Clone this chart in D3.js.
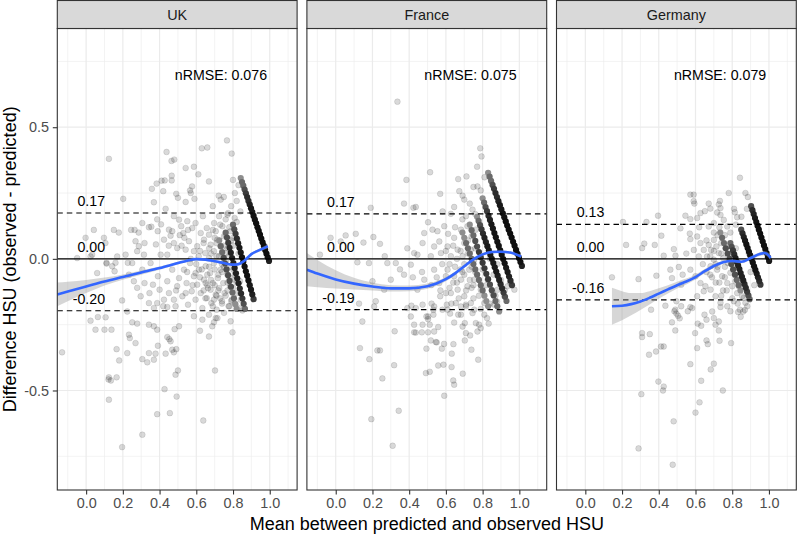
<!DOCTYPE html>
<html><head><meta charset="utf-8">
<script src="https://cdn.jsdelivr.net/npm/d3@7"></script>
<style>body{margin:0;background:#fff}text{font-family:"Liberation Sans",Arial,Helvetica,sans-serif}</style>
</head><body>
<script>
// ---------------- data ----------------
const panels = ["UK", "France", "Germany"];
const xTicks = [0, 0.2, 0.4, 0.6, 0.8, 1.0];
const xTickLabels = ["0.0", "0.2", "0.4", "0.6", "0.8", "1.0"];
const xMinor = [-0.1, 0.1, 0.3, 0.5, 0.7, 0.9, 1.1];
const yTicks = [-0.5, 0, 0.5];
const yTickLabels = ["-0.5", "0.0", "0.5"];
const yMinor = [-0.75, -0.25, 0.25, 0.75];
const nrmseLabels = ["nRMSE: 0.076", "nRMSE: 0.075", "nRMSE: 0.079"];

const ukLimits = [0.174, 0, -0.197];
const ukLimitLabels = ["0.17", "0.00", "-0.20"];
const frLimits = [0.171, 0, -0.193];
const frLimitLabels = ["0.17", "0.00", "-0.19"];
const deLimits = [0.131, 0, -0.156];
const deLimitLabels = ["0.13", "0.00", "-0.16"];

// scattered points [mean, difference]
const ukPoints = [
[0.124,0.38],[0.202,0.228],[0.438,0.406],[0.465,0.372],[0.48,0.377],[0.542,0.345],[0.587,0.35],[0.63,0.42],[0.66,0.423],[0.767,0.45],[0.793,0.40],
[0.466,0.316],[0.428,0.298],[0.411,0.297],[0.384,0.286],[0.358,0.266],[0.466,0.298],[0.42,0.257],[0.369,0.215],[0.433,0.19],[0.491,0.247],[0.5,0.232],[0.542,0.216],[0.566,0.26],[0.577,0.275],[0.57,0.25],[0.59,0.228],[0.611,0.321],[0.669,0.294],[0.722,0.24],[0.733,0.225],[0.75,0.235],[0.69,0.2],[0.77,0.168],
[0.097,0.08],[0.105,0.06],[0.042,0.11],[-0.003,0.08],[0.151,0.11],[0.178,0.1],[0.245,0.11],[0.264,0.11],[0.286,0.1],[0.306,0.136],[0.342,0.12],[0.387,0.15],[0.408,0.131],[0.469,0.105],[0.51,0.09],[0.535,0.08],[0.555,0.11],
[0.269,0.067],[0.287,0.048],[0.318,0.06],[0.355,0.122],[0.38,0.055],[0.406,0.016],[0.451,0.111],[0.46,0.088],[0.478,0.162],[0.506,0.149],[0.518,0.124],[0.529,0.098],[0.551,0.143],[0.56,0.067],[0.578,0.117],[0.596,0.136],[0.605,0.048],[0.624,0.098],[0.636,0.162],[0.642,0.073],[0.657,0.117],[0.669,0.092],[0.678,0.054],[0.697,0.136],[0.706,0.105],[0.715,0.073],[0.724,0.162],[0.733,0.048],[0.742,0.124],[0.751,0.086],[0.76,0.022],[0.773,0.174],[0.787,0.105],[0.809,0.155],[0.824,0.073],
[0.39,0.105],[0.424,0.073],[0.478,0.06],[0.496,0.041],[0.542,0.035],[0.587,0.029],[0.613,0.01],[0.649,0.022],[0.669,0.003],[0.696,0.029],[0.724,0.01],[0.751,0.0],[0.778,0.01],
[0.033,0.016],[0.111,-0.015],[0.16,-0.015],[0.227,-0.015],[0.278,0.029],[0.315,0.016],[0.442,0.016],
[-0.049,0.003],[0.024,0.009],[0.06,-0.054],[0.111,-0.018],[0.142,-0.028],[0.155,-0.047],[0.215,0.016],[0.169,0.009],[0.233,-0.06],
[0.196,-0.158],[0.224,-0.2],[0.251,-0.241],[0.278,-0.246],[0.024,-0.235],[0.064,-0.221],[0.106,-0.222],[0.051,-0.269],[0.1,-0.269],[0.138,-0.269],[0.166,-0.343],[0.18,-0.386],[0.124,-0.45],[0.166,-0.45],[0.124,-0.535],[0.196,-0.715],[0.224,-0.358],[0.238,-0.301],[0.233,-0.288],[0.269,-0.32],[0.306,-0.381],[0.333,-0.393],[0.342,-0.358],[0.378,-0.36],[0.369,-0.383],[0.306,-0.668],[0.391,-0.33],[0.387,-0.59],[0.456,-0.586],[0.427,-0.495],[0.493,-0.523],[0.442,-0.297],[0.453,-0.305],[0.46,-0.313],[0.469,-0.345],[0.433,-0.36],[0.478,-0.355],[0.491,-0.343],[0.487,-0.44],[0.5,-0.424],[0.342,-0.25],[0.369,-0.256],[0.387,-0.269],[0.42,-0.18],[0.442,-0.183],[0.482,-0.267],[0.506,-0.256],[0.587,-0.218],[0.62,-0.273],[0.669,-0.295],[0.638,-0.614],[0.702,-0.424],[0.696,-0.241],[0.687,-0.256],[0.706,-0.225],[0.797,-0.279],[-0.131,-0.355],[0.122,-0.458],[0.135,-0.462],
[0.318,-0.092],[0.345,-0.13],[0.364,-0.098],[0.391,-0.066],[0.4,-0.117],[0.424,-0.155],[0.442,-0.085],[0.451,-0.13],[0.469,-0.041],[0.478,-0.155],[0.496,-0.104],[0.506,-0.073],[0.524,-0.142],[0.533,-0.041],[0.547,-0.092],[0.555,-0.174],[0.566,-0.016],[0.575,-0.123],[0.587,-0.066],[0.596,-0.155],[0.605,-0.098],[0.615,-0.041],[0.624,-0.13],[0.633,-0.187],[0.642,-0.079],[0.651,-0.028],[0.657,-0.149],[0.664,-0.111],[0.675,-0.054],[0.682,-0.168],[0.69,-0.092],[0.696,-0.016],[0.706,-0.136],[0.711,-0.193],[0.718,-0.073],[0.725,-0.111],[0.733,-0.041],[0.74,-0.161],[0.747,-0.092],[0.754,-0.13],[0.762,-0.009],[0.769,-0.06],[0.776,-0.18],[0.784,-0.104],[0.793,-0.155],[0.802,-0.041],[0.811,-0.079],[0.82,-0.13],[0.833,-0.187],[0.842,-0.155],[0.851,-0.196],[0.838,-0.085],
[0.678,-0.117],[0.696,-0.155],[0.651,-0.092],[0.596,-0.054],[0.542,-0.13],[0.487,-0.18],[0.387,-0.168],[0.369,-0.187],[0.342,-0.168],[0.297,-0.142],[0.278,-0.11],[0.26,-0.085],[0.306,-0.041],[0.351,-0.016],[0.251,-0.016],[0.633,-0.231],[0.669,-0.212],[0.715,-0.225],[0.751,-0.205],[0.787,-0.237],
[0.66,-0.06],[0.68,-0.08],[0.7,-0.1],[0.72,-0.12],[0.74,-0.05],[0.76,-0.14],[0.78,-0.07],[0.8,-0.11],[0.7,-0.04],[0.73,-0.15],[0.75,-0.03],[0.77,-0.09],[0.79,-0.16],[0.81,-0.06],[0.64,-0.12],[0.62,-0.07],[0.67,0.04],[0.71,0.06],[0.74,0.02],[0.76,0.09],[0.78,0.12],[0.8,0.05],[0.82,0.14],[0.69,0.11],
[0.6,-0.02],[0.62,0.03],[0.64,0.06],[0.66,-0.1],[0.68,0.02],[0.7,0.08],[0.72,-0.06],[0.74,-0.02],[0.75,0.05],[0.77,-0.12],[0.79,-0.03],[0.8,0.08],[0.82,-0.09],[0.83,0.02],[0.84,-0.13],[0.65,-0.15],[0.69,-0.18],[0.71,-0.14],[0.73,0.13],[0.76,0.15],[0.79,0.2],[0.81,0.25],[0.83,0.28],[0.8,0.3],[0.82,0.22],[0.84,0.18],[0.78,-0.18],[0.81,-0.17],[0.57,0.0],[0.58,-0.1],[0.55,-0.05],[0.52,0.05],[0.49,-0.12],[0.45,0.05],[0.63,-0.04],[0.67,-0.03],[0.71,0.01],[0.77,0.04],[0.74,-0.17],[0.79,0.07]
];

// dense diagonal bands [mean, difference, overlapping count]
const ukStripes = [
[0.842,0.307,2],[0.849,0.292,3],[0.856,0.278,3],[0.863,0.263,4],[0.870,0.249,5],[0.877,0.235,6],[0.884,0.220,6],[0.891,0.206,7],[0.898,0.192,8],[0.905,0.178,8],[0.912,0.163,9],[0.919,0.149,9],[0.926,0.135,10],[0.933,0.120,10],[0.940,0.106,10],[0.947,0.092,10],[0.954,0.077,10],[0.961,0.063,10],[0.968,0.049,10],[0.975,0.034,10],[0.982,0.020,10],[0.989,0.006,9],[0.996,-0.008,7],
[0.800,0.130,3],[0.807,0.112,4],[0.814,0.095,5],[0.821,0.077,6],[0.828,0.059,7],[0.835,0.042,8],[0.842,0.024,8],[0.849,0.006,9],[0.856,-0.011,9],[0.863,-0.029,9],[0.870,-0.047,9],[0.877,-0.064,9],[0.884,-0.082,9],[0.891,-0.100,8],[0.898,-0.117,8],[0.905,-0.135,7],[0.912,-0.153,5],
[0.760,0.100,3],[0.767,0.081,4],[0.774,0.061,5],[0.781,0.042,6],[0.788,0.023,7],[0.795,0.003,7],[0.802,-0.016,7],[0.809,-0.035,7],[0.816,-0.055,7],[0.823,-0.074,7],[0.830,-0.093,7],[0.837,-0.113,6],[0.844,-0.132,6],[0.851,-0.151,5],[0.858,-0.171,4],[0.865,-0.190,3],
[0.725,0.070,2],[0.733,0.048,3],[0.741,0.026,3],[0.749,0.004,4],[0.757,-0.018,4],[0.765,-0.040,4],[0.773,-0.062,4],[0.781,-0.084,4],[0.789,-0.106,4],[0.797,-0.128,3],[0.805,-0.150,3],[0.813,-0.172,2],[0.820,-0.190,2]
];

const frPoints = [
[0.336,0.597],[0.787,0.42],[0.794,0.389],[0.514,0.329],[0.385,0.30],[0.667,0.303],[0.712,0.313],[0.75,0.273],[0.772,0.275],[0.372,0.21],[0.423,0.194],[0.436,0.197],[0.569,0.247],[0.191,0.194],
[0.673,0.257],[0.691,0.24],[0.7,0.225],[0.645,0.197],[0.627,0.171],[0.582,0.18],[0.109,0.095],[0.054,0.089],[-0.028,0.08],[-0.086,0.016],[0.027,0.066],[0.151,0.062],[0.205,0.083],[0.241,0.057],[0.267,0.01],[0.181,-0.016],[0.118,-0.013],[0.281,-0.016],[0.327,-0.016],[0.372,-0.06],[0.409,-0.022],[0.445,0.016],[0.503,0.139],[0.527,0.111],[0.554,0.105],[0.591,0.124],[0.612,0.095],[0.564,-0.092],[0.569,-0.142],[0.536,-0.181],[0.503,-0.219],[0.581,-0.193],[0.218,-0.161],[0.2,-0.085],[0.264,-0.117],[0.3,-0.079],
[0.427,0.022],[0.473,0.06],[0.482,0.098],[0.536,0.047],[0.518,0.01],[0.564,0.066],[0.573,0.022],[0.609,0.047],[0.627,0.01],[0.645,0.08],[0.664,0.035],[0.682,0.111],[0.691,0.01],[0.7,0.06],[0.709,0.162],[0.718,0.124],[0.727,-0.041],[0.736,0.035],[0.74,0.086],[0.745,0.187],[0.754,-0.003],[0.763,0.111],
[0.609,-0.041],[0.645,-0.066],[0.664,-0.117],[0.682,-0.079],[0.7,-0.142],[0.718,-0.104],[0.736,-0.168],[0.754,-0.079],[0.654,-0.168],[0.627,-0.13],[0.6,-0.066],[0.536,-0.041],[0.482,-0.079],[0.445,-0.117],[0.609,-0.193],[0.682,-0.212],[0.754,-0.193],[0.79,-0.117],[0.809,-0.168],[0.827,-0.079],[0.854,-0.13],[0.882,-0.117],[0.936,-0.104],[0.973,-0.117],[0.918,-0.142],
[0.127,-0.17],[0.145,-0.238],[0.209,-0.181],[0.321,-0.275],[0.132,-0.339],[0.227,-0.348],[0.241,-0.348],[0.183,-0.381],[0.318,-0.404],[0.254,-0.454],[0.194,-0.609],[0.343,-0.577],[0.31,-0.71],[0.591,-0.52],[0.491,-0.434],[0.512,-0.429],[0.558,-0.405],[0.587,-0.402],[0.631,-0.411],[0.64,-0.462],[0.645,-0.478],[0.692,-0.436],[0.776,-0.383],[0.739,-0.345],[0.632,-0.36],[0.641,-0.324],[0.578,-0.341],[0.59,-0.323],[0.494,-0.341],[0.518,-0.31],[0.545,-0.316],[0.55,-0.317],[0.427,-0.279],[0.436,-0.28],[0.469,-0.279],[0.503,-0.279],[0.536,-0.276],
[0.427,-0.25],[0.473,-0.25],[0.512,-0.25],[0.558,-0.259],[0.409,-0.219],[0.494,-0.219],[0.503,-0.229],[0.532,-0.212],[0.645,-0.242],[0.691,-0.257],[0.703,-0.244],[0.709,-0.282],[0.703,-0.31],[0.732,-0.291],[0.772,-0.276],[0.781,-0.25],[0.79,-0.263],[0.833,-0.246],[0.39,-0.187],[0.412,-0.178],[0.436,-0.187],[0.473,-0.174],[0.522,-0.17],[0.532,-0.193],[0.623,-0.208],[0.667,-0.212],[0.682,-0.181],[0.745,-0.206],[0.763,-0.244],[0.809,-0.212],[0.824,-0.225],[0.863,-0.174],[0.878,-0.162],[0.605,-0.174],[0.709,-0.174],
[0.62,-0.11],[0.65,-0.03],[0.67,-0.15],[0.69,-0.05],[0.71,-0.12],[0.73,-0.08],[0.75,-0.15],[0.76,-0.05],[0.72,0.02],[0.66,0.0],[0.7,-0.02],[0.74,-0.11],[0.68,-0.04],[0.64,-0.09],[0.58,-0.02],[0.55,-0.07],[0.6,-0.13],[0.47,-0.05],[0.52,-0.1],[0.42,-0.07],[0.39,0.04],[0.35,-0.04],
[0.62,-0.02],[0.64,0.05],[0.66,-0.09],[0.68,0.03],[0.7,-0.06],[0.72,0.07],[0.74,-0.03],[0.76,0.04],[0.78,-0.14],[0.8,-0.04],[0.82,-0.1],[0.84,0.0],[0.86,-0.06],[0.88,-0.02],[0.9,-0.08],[0.65,0.12],[0.69,0.15],[0.73,0.21],[0.76,0.17],[0.79,0.26],[0.81,0.31],[0.77,0.35],[0.6,0.03],[0.57,-0.12],[0.63,-0.17],[0.71,-0.18],[0.75,-0.1],[0.79,-0.19],[0.84,-0.17],[0.87,-0.14],[0.92,-0.12],[0.95,-0.09]
];

const frStripes = [
[0.830,0.327,2],[0.838,0.312,3],[0.846,0.296,3],[0.854,0.281,4],[0.862,0.266,5],[0.870,0.250,6],[0.878,0.235,6],[0.886,0.219,7],[0.894,0.204,8],[0.902,0.188,8],[0.910,0.173,9],[0.918,0.158,9],[0.926,0.142,10],[0.934,0.127,10],[0.942,0.111,10],[0.950,0.096,10],[0.958,0.081,10],[0.966,0.065,10],[0.974,0.050,10],[0.982,0.034,10],[0.990,0.019,10],[0.998,0.003,10],[1.006,-0.012,9],[1.014,-0.027,7],
[0.800,0.230,2],[0.808,0.214,3],[0.816,0.197,4],[0.824,0.181,5],[0.832,0.164,6],[0.840,0.148,7],[0.848,0.131,8],[0.856,0.115,8],[0.864,0.098,9],[0.872,0.082,9],[0.880,0.065,9],[0.888,0.049,9],[0.896,0.032,9],[0.904,0.016,9],[0.912,-0.001,9],[0.920,-0.017,9],[0.928,-0.034,8],[0.936,-0.050,8],[0.944,-0.067,7],[0.952,-0.083,6],[0.960,-0.100,5],
[0.770,0.160,2],[0.778,0.144,3],[0.786,0.128,4],[0.794,0.112,5],[0.802,0.096,6],[0.810,0.080,7],[0.818,0.064,7],[0.826,0.048,8],[0.834,0.032,8],[0.842,0.016,8],[0.850,0.000,8],[0.858,-0.016,8],[0.866,-0.032,8],[0.874,-0.048,8],[0.882,-0.064,7],[0.890,-0.080,7],[0.898,-0.096,6],[0.906,-0.112,6],[0.914,-0.128,5],[0.922,-0.144,4],[0.930,-0.160,3],
[0.730,0.130,2],[0.740,0.109,3],[0.750,0.089,3],[0.760,0.068,4],[0.770,0.047,4],[0.780,0.026,5],[0.790,0.006,5],[0.800,-0.015,5],[0.810,-0.036,5],[0.820,-0.057,5],[0.830,-0.077,5],[0.840,-0.098,4],[0.850,-0.119,4],[0.860,-0.139,4],[0.870,-0.160,3],[0.880,-0.180,3],[0.890,-0.200,2],
[0.690,0.100,2],[0.700,0.080,2],[0.710,0.060,3],[0.720,0.040,3],[0.730,0.020,3],[0.740,0.000,3],[0.750,-0.020,3],[0.760,-0.040,3],[0.770,-0.060,3],[0.780,-0.080,3],[0.790,-0.100,3],[0.800,-0.120,3],[0.810,-0.140,2],[0.820,-0.160,2],[0.830,-0.180,2]
];

const dePoints = [
[0.842,0.308],[0.872,0.25],[0.885,0.235],[0.781,0.25],[0.572,0.244],[0.59,0.244],[0.59,0.219],[0.594,0.21],[0.733,0.22],[0.727,0.207],[0.736,0.193],[0.718,0.176],[0.672,0.21],[0.681,0.191],[0.81,0.19],[0.814,0.177],[0.827,0.158],
[0.651,0.181],[0.627,0.174],[0.609,0.155],[0.572,0.151],[0.545,0.164],
[0.396,0.164],[0.333,0.14],[0.205,0.14],[0.222,0.053],[0.309,0.041],[0.321,0.058],[0.378,0.053],[0.414,0.088],[0.518,0.116],[0.572,0.075],[0.569,0.096],[0.482,0.037],[0.491,0.012],[0.427,0.012],[0.145,-0.07],[0.29,-0.077],[0.387,-0.064],
[0.463,-0.041],[0.509,-0.031],[0.472,-0.073],[0.522,-0.098],
[0.358,-0.193],[0.436,-0.178],[0.496,-0.161],[0.485,-0.199],[0.522,-0.18],[0.558,-0.199],[0.572,-0.183],[0.609,-0.142],[0.645,-0.123],
[0.672,0.053],[0.685,0.034],[0.7,0.072],[0.714,0.047],[0.727,0.022],[0.74,0.06],[0.751,0.003],[0.763,0.041],[0.776,-0.016],[0.787,0.015],[0.7,-0.003],[0.682,-0.028],[0.718,-0.041],[0.745,-0.066],[0.773,-0.092],[0.8,-0.104],[0.827,-0.13],[0.79,-0.053],[0.818,-0.085],[0.836,-0.104],[0.854,-0.142],[0.872,-0.167],[0.663,0.009],[0.645,0.034],[0.627,0.06],[0.609,0.085],[0.672,0.123],[0.7,0.136],[0.736,0.167],[0.754,0.148],[0.773,0.123],[0.618,0.009],[0.591,0.034],[0.572,-0.041],[0.6,-0.066],[0.627,-0.092],[0.654,-0.104],[0.682,-0.117],[0.709,-0.142],[0.736,-0.167],[0.773,-0.18],[0.809,-0.161],[0.842,-0.193],[0.79,-0.199],[0.863,-0.148],[0.882,-0.18],
[0.66,-0.05],[0.69,-0.07],[0.71,-0.02],[0.73,-0.09],[0.75,-0.12],[0.68,0.01],[0.72,0.09],[0.76,-0.03],[0.64,-0.02],[0.55,0.02],[0.53,-0.06],[0.62,0.12],
[0.68,-0.06],[0.7,0.03],[0.72,-0.03],[0.74,0.02],[0.76,-0.07],[0.78,0.05],[0.8,-0.02],[0.82,0.04],[0.84,-0.06],[0.86,-0.09],[0.88,-0.12],[0.7,0.1],[0.73,0.12],[0.76,0.09],[0.79,0.1],[0.82,0.13],[0.85,0.16],[0.88,0.19],[0.66,0.07],[0.71,-0.09],[0.74,-0.14],[0.77,-0.12],[0.8,-0.15],[0.83,-0.17],[0.86,-0.2],[0.89,0.02],[0.9,-0.05],[0.92,-0.1],
[0.309,-0.297],[0.309,-0.282],[0.351,-0.286],[0.347,-0.364],[0.385,-0.352],[0.412,-0.333],[0.427,-0.333],[0.472,-0.241],[0.49,-0.272],[0.598,-0.282],[0.609,-0.339],[0.66,-0.31],[0.667,-0.324],[0.731,-0.311],[0.727,-0.272],[0.794,-0.32],[0.612,-0.246],[0.631,-0.254],
[0.398,-0.466],[0.427,-0.485],[0.423,-0.5],[0.305,-0.514],[0.481,-0.617],[0.29,-0.72],[0.476,-0.782],[0.572,-0.4],[0.631,-0.463],[0.622,-0.545],[0.6,-0.584],[0.683,-0.42],[0.7,-0.398],[0.749,-0.5],
[0.649,-0.212],[0.66,-0.231],[0.691,-0.2],[0.7,-0.225],[0.709,-0.25],[0.727,-0.238],[0.49,-0.193],[0.496,-0.208],[0.505,-0.216],[0.514,-0.226],[0.582,-0.187],[0.736,-0.183],[0.832,-0.202],[0.846,-0.22],[0.869,-0.194]
];

const deStripes = [
[0.903,0.200,4],[0.910,0.185,6],[0.917,0.170,7],[0.924,0.155,8],[0.931,0.140,9],[0.938,0.126,10],[0.945,0.111,10],[0.952,0.096,10],[0.959,0.081,10],[0.966,0.066,10],[0.973,0.051,10],[0.980,0.037,10],[0.987,0.022,10],[0.994,0.007,10],[1.001,-0.008,8],
[0.849,0.111,4],[0.856,0.097,6],[0.863,0.083,7],[0.870,0.069,8],[0.877,0.055,9],[0.884,0.041,9],[0.891,0.027,9],[0.898,0.013,9],[0.905,-0.001,9],[0.912,-0.014,9],[0.919,-0.028,9],[0.926,-0.042,9],[0.933,-0.056,8],[0.940,-0.070,7],[0.947,-0.084,6],[0.954,-0.098,5],
[0.790,0.060,3],[0.797,0.046,4],[0.804,0.032,5],[0.811,0.017,6],[0.818,0.003,7],[0.825,-0.011,7],[0.832,-0.025,7],[0.839,-0.039,7],[0.846,-0.054,7],[0.853,-0.068,7],[0.860,-0.082,7],[0.867,-0.096,6],[0.874,-0.110,6],[0.881,-0.125,5],[0.888,-0.139,4],[0.895,-0.153,3],
[0.735,0.100,2],[0.745,0.080,3],[0.755,0.060,3],[0.765,0.040,4],[0.775,0.020,4],[0.785,0.000,4],[0.795,-0.020,4],[0.805,-0.040,4],[0.815,-0.060,4],[0.825,-0.080,3],[0.835,-0.100,3],[0.845,-0.120,2]
];

// loess fits: x, fitted y, half-width of confidence band
const ukFitX  = [-0.157,-0.1,0.0,0.1,0.2,0.3,0.4,0.5,0.55,0.6,0.65,0.7,0.75,0.8,0.83,0.86,0.9,0.95,0.99];
const ukFitY  = [-0.135,-0.124,-0.105,-0.086,-0.069,-0.052,-0.035,-0.016,-0.007,-0.001,-0.003,-0.009,-0.016,-0.022,-0.020,-0.008,0.018,0.035,0.048];
const ukFitSE = [0.045,0.037,0.025,0.015,0.010,0.008,0.006,0.005,0.005,0.005,0.005,0.004,0.004,0.004,0.004,0.004,0.005,0.006,0.008];
const frFitX  = [-0.157,-0.1,0.0,0.1,0.2,0.3,0.4,0.5,0.6,0.65,0.7,0.75,0.8,0.85,0.9,0.95,1.0,1.01];
const frFitY  = [-0.041,-0.056,-0.078,-0.094,-0.105,-0.112,-0.112,-0.104,-0.077,-0.055,-0.028,-0.002,0.017,0.026,0.027,0.024,0.012,0.009];
const frFitSE = [0.063,0.052,0.035,0.022,0.015,0.012,0.011,0.010,0.008,0.007,0.006,0.005,0.005,0.005,0.005,0.005,0.006,0.007];
const deFitX  = [0.145,0.2,0.25,0.3,0.35,0.4,0.45,0.5,0.55,0.6,0.65,0.7,0.75,0.8,0.85,0.9,0.95,0.975,1.0,1.009];
const deFitY  = [-0.18,-0.178,-0.172,-0.162,-0.148,-0.132,-0.116,-0.100,-0.086,-0.069,-0.047,-0.027,-0.013,-0.008,-0.011,0.003,0.018,0.022,0.012,0.003];
const deFitSE = [0.07,0.055,0.042,0.032,0.025,0.020,0.016,0.013,0.011,0.009,0.008,0.007,0.006,0.006,0.006,0.006,0.007,0.008,0.010,0.011];

// ---------------- drawing ----------------
const W = 797, H = 535;
const panelLeft = [57.3, 306.9, 556.5];
const panelW = 239.8, panelTop = 28.5, panelH = 461.5, stripTop = 0.5;

const datasets = [
  {points: ukPoints, stripes: ukStripes, fx: ukFitX, fy: ukFitY, fse: ukFitSE, lim: ukLimits, limLab: ukLimitLabels},
  {points: frPoints, stripes: frStripes, fx: frFitX, fy: frFitY, fse: frFitSE, lim: frLimits, limLab: frLimitLabels},
  {points: dePoints, stripes: deStripes, fx: deFitX, fy: deFitY, fse: deFitSE, lim: deLimits, limLab: deLimitLabels}
];

const x = d3.scaleLinear().domain([-0.157, 1.149]).range([0, panelW]);
const y = d3.scaleLinear().domain([-0.878, 0.875]).range([panelH, 0]);

const svg = d3.select("body").append("svg").attr("width", W).attr("height", H)
  .style("background", "#fff");

const ptAlpha = 0.15;
const stripeShade = n => d3.interpolateRgb("#ffffff", "#000000")(1 - Math.pow(1 - ptAlpha, 1.8 * n));

datasets.forEach((ds, i) => {
  const g = svg.append("g").attr("transform", `translate(${panelLeft[i]},${panelTop})`);
  const clipId = "clip" + i;
  g.append("clipPath").attr("id", clipId).append("rect")
    .attr("x", 0).attr("y", 0).attr("width", panelW).attr("height", panelH);

  g.append("rect").attr("width", panelW).attr("height", panelH).attr("fill", "#fff");

  const grid = g.append("g");
  grid.selectAll(".vmin").data(xMinor).join("line")
    .attr("x1", d => x(d)).attr("x2", d => x(d)).attr("y1", 0).attr("y2", panelH)
    .attr("stroke", "#EBEBEB").attr("stroke-width", 0.6);
  grid.selectAll(".hmin").data(yMinor).join("line")
    .attr("y1", d => y(d)).attr("y2", d => y(d)).attr("x1", 0).attr("x2", panelW)
    .attr("stroke", "#EBEBEB").attr("stroke-width", 0.6);
  grid.selectAll(".vmaj").data(xTicks).join("line")
    .attr("x1", d => x(d)).attr("x2", d => x(d)).attr("y1", 0).attr("y2", panelH)
    .attr("stroke", "#EBEBEB").attr("stroke-width", 1.2);
  grid.selectAll(".hmaj").data(yTicks).join("line")
    .attr("y1", d => y(d)).attr("y2", d => y(d)).attr("x1", 0).attr("x2", panelW)
    .attr("stroke", "#EBEBEB").attr("stroke-width", 1.2);

  const plot = g.append("g").attr("clip-path", `url(#${clipId})`);

  plot.append("g").selectAll("circle").data(ds.points).join("circle")
    .attr("cx", d => x(d[0])).attr("cy", d => y(d[1])).attr("r", 2.9)
    .attr("fill", "#000").attr("fill-opacity", ptAlpha)
    .attr("stroke", "#000").attr("stroke-opacity", ptAlpha).attr("stroke-width", 0.7);

  const stripeSorted = ds.stripes.slice().sort((a, b) => a[2] - b[2]);
  plot.append("g").selectAll("circle").data(stripeSorted).join("circle")
    .attr("cx", d => x(d[0])).attr("cy", d => y(d[1])).attr("r", 3.1)
    .attr("fill", d => stripeShade(d[2]));

  // reference lines
  ds.lim.forEach((v, k) => {
    plot.append("line").attr("x1", 0).attr("x2", panelW)
      .attr("y1", y(v)).attr("y2", y(v))
      .attr("stroke", "#000").attr("stroke-width", 1.1)
      .attr("stroke-dasharray", v === 0 ? null : "5.5,4");
  });

  // smoother
  const fit = ds.fx.map((xv, k) => ({x: xv, y: ds.fy[k], se: ds.fse[k]}));
  plot.append("path").datum(fit)
    .attr("d", d3.area().x(d => x(d.x)).y0(d => y(d.y - d.se)).y1(d => y(d.y + d.se)).curve(d3.curveMonotoneX))
    .attr("fill", "#999999").attr("fill-opacity", 0.4);
  plot.append("path").datum(fit)
    .attr("d", d3.line().x(d => x(d.x)).y(d => y(d.y)).curve(d3.curveMonotoneX))
    .attr("fill", "none").attr("stroke", "#3366FF").attr("stroke-width", 2.6);

  // labels
  ds.lim.forEach((v, k) => {
    g.append("text").attr("x", x(0.1) + 0.6).attr("y", y(v) - 7)
      .attr("text-anchor", "end").attr("font-size", 14.2).attr("fill", "#000")
      .text(ds.limLab[k]);
  });
  g.append("text").attr("x", x(0.734)).attr("y", y(0.678))
    .attr("text-anchor", "middle").attr("font-size", 14.2).attr("fill", "#000")
    .text(nrmseLabels[i]);

  // border
  g.append("rect").attr("width", panelW).attr("height", panelH)
    .attr("fill", "none").attr("stroke", "#333333").attr("stroke-width", 1.1);

  // strip
  const s = svg.append("g").attr("transform", `translate(${panelLeft[i]},${stripTop})`);
  s.append("rect").attr("width", panelW).attr("height", panelTop - stripTop)
    .attr("fill", "#D9D9D9").attr("stroke", "#333333").attr("stroke-width", 1.1);
  s.append("text").attr("x", panelW / 2).attr("y", (panelTop - stripTop) / 2).attr("dy", "0.36em")
    .attr("text-anchor", "middle").attr("font-size", 14.4).attr("fill", "#1A1A1A")
    .text(panels[i]);

  // x axis
  const xa = g.append("g").attr("transform", `translate(0,${panelH})`)
    .call(d3.axisBottom(x).tickValues(xTicks).tickFormat((d, k) => xTickLabels[k])
      .tickSize(4.5).tickPadding(3.6));
  xa.select(".domain").remove();
  xa.selectAll("line").attr("stroke", "#333333").attr("stroke-width", 1.1);
  xa.selectAll("text").attr("font-size", 14.4).attr("fill", "#4D4D4D")
    .attr("font-family", '"Liberation Sans",Arial,Helvetica,sans-serif');

  if (i === 0) {
    const ya = g.append("g")
      .call(d3.axisLeft(y).tickValues(yTicks).tickFormat((d, k) => yTickLabels[k])
        .tickSize(4.5).tickPadding(3.8));
    ya.select(".domain").remove();
    ya.selectAll("line").attr("stroke", "#333333").attr("stroke-width", 1.1);
    ya.selectAll("text").attr("font-size", 14.4).attr("fill", "#4D4D4D")
      .attr("font-family", '"Liberation Sans",Arial,Helvetica,sans-serif');
  }
});

// axis titles
svg.append("text").attr("x", (panelLeft[0] + panelLeft[2] + panelW) / 2).attr("y", 529.5)
  .attr("text-anchor", "middle").attr("font-size", 18).attr("fill", "#000")
  .text("Mean between predicted and observed HSU");
svg.append("text")
  .attr("transform", `translate(15.5,${panelTop + panelH / 2}) rotate(-90)`)
  .attr("text-anchor", "middle").attr("font-size", 18).attr("fill", "#000")
  .text("Difference HSU (observed - predicted)");
</script>
</body></html>
